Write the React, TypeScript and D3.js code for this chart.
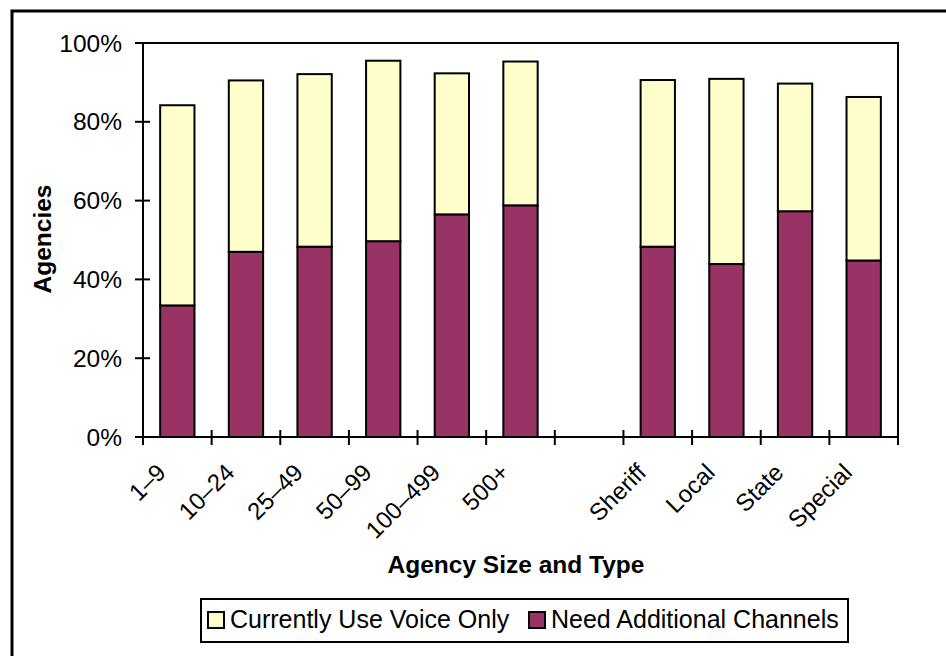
import * as d3 from 'd3';
import { useEffect, useRef } from 'react';

// categories (empty slot separates size groups from agency types)
const categories = ['1–9', '10–24', '25–49', '50–99', '100–499', '500+', '', 'Sheriff', 'Local', 'State', 'Special'];
const needAdditional = [33.4, 47.0, 48.3, 49.7, 56.5, 58.8, 0, 48.3, 43.9, 57.3, 44.8];
const voiceOnly = [50.8, 43.5, 43.8, 45.8, 35.8, 36.5, 0, 42.3, 47.0, 32.4, 41.5];
const yTicks = [0, 20, 40, 60, 80, 100];
const seriesNames = ['Currently Use Voice Only', 'Need Additional Channels'];
const seriesColors = ['#FFFFCC', '#993366'];

const FONT = '"Liberation Sans", Arial, sans-serif';

export default function App() {
  const ref = useRef<SVGSVGElement | null>(null);

  useEffect(() => {
    if (!ref.current) return;
    const svg = d3.select(ref.current);
    svg.selectAll('*').remove();

    const width = 946;
    const height = 656;
    const left = 143, right = 898, top = 43, bottom = 437;

    // outer frame
    svg.append('rect')
      .attr('x', 12).attr('y', 11)
      .attr('width', width).attr('height', height)
      .attr('fill', 'white').attr('stroke', '#000').attr('stroke-width', 3);

    const rows = categories.map((c, i) => ({
      cat: String(i),
      label: c,
      need: needAdditional[i],
      voice: voiceOnly[i],
    }));

    const x = d3.scaleBand<string>()
      .domain(rows.map((r) => r.cat))
      .range([left, right])
      .paddingInner(0.5)
      .paddingOuter(0.25);

    const y = d3.scaleLinear().domain([0, 100]).range([bottom, top]);

    // plot frame
    svg.append('rect')
      .attr('x', left).attr('y', top)
      .attr('width', right - left).attr('height', bottom - top)
      .attr('fill', 'none').attr('stroke', '#000').attr('stroke-width', 2);

    const stack = d3.stack<any>().keys(['need', 'voice']);
    const stacked = stack(rows.filter((r) => r.label !== ''));
    const colorFor: Record<string, string> = { need: seriesColors[1], voice: seriesColors[0] };

    svg.append('g')
      .selectAll('g')
      .data(stacked)
      .join('g')
      .attr('fill', (s) => colorFor[s.key])
      .selectAll('rect')
      .data((s) => s)
      .join('rect')
      .attr('x', (d: any) => x(d.data.cat)!)
      .attr('y', (d) => y(d[1]))
      .attr('width', x.bandwidth())
      .attr('height', (d) => y(d[0]) - y(d[1]))
      .attr('stroke', '#000')
      .attr('stroke-width', 2);

    // axes lines
    svg.append('line')
      .attr('x1', left).attr('x2', right).attr('y1', bottom).attr('y2', bottom)
      .attr('stroke', '#000').attr('stroke-width', 2);
    svg.append('line')
      .attr('x1', left).attr('x2', left).attr('y1', top).attr('y2', bottom)
      .attr('stroke', '#000').attr('stroke-width', 2);

    // y ticks (cross)
    const yg = svg.append('g');
    yTicks.forEach((t) => {
      yg.append('line')
        .attr('x1', left - 8).attr('x2', left + 7)
        .attr('y1', y(t)).attr('y2', y(t))
        .attr('stroke', '#000').attr('stroke-width', 2);
      yg.append('text')
        .attr('x', 122).attr('y', y(t))
        .attr('dy', '0.35em')
        .attr('text-anchor', 'end')
        .attr('font-family', FONT).attr('font-size', 24.5)
        .text(`${t}%`);
    });

    // x ticks at category boundaries
    const step = x.step();
    d3.range(categories.length + 1).forEach((i) => {
      const xx = left + i * step;
      svg.append('line')
        .attr('x1', xx).attr('x2', xx)
        .attr('y1', bottom - 7).attr('y2', bottom + 8)
        .attr('stroke', '#000').attr('stroke-width', 2);
    });

    // x labels
    rows.forEach((r) => {
      if (!r.label) return;
      const cx = x(r.cat)! + x.bandwidth() / 2;
      svg.append('text')
        .attr('transform', `translate(${cx - 16}, ${bottom + 31}) rotate(-45)`)
        .attr('text-anchor', 'end')
        .attr('dy', '0.35em')
        .attr('font-family', FONT).attr('font-size', 24)
        .text(r.label);
    });

    // axis titles
    svg.append('text')
      .attr('x', 516).attr('y', 573)
      .attr('text-anchor', 'middle')
      .attr('font-family', FONT).attr('font-size', 24.5).attr('font-weight', 'bold')
      .text('Agency Size and Type');

    svg.append('text')
      .attr('transform', 'translate(51, 239) rotate(-90)')
      .attr('text-anchor', 'middle')
      .attr('font-family', FONT).attr('font-size', 24.5).attr('font-weight', 'bold')
      .text('Agencies');

    // legend
    const lg = svg.append('g');
    lg.append('rect')
      .attr('x', 201).attr('y', 599)
      .attr('width', 647).attr('height', 43)
      .attr('fill', 'white').attr('stroke', '#000').attr('stroke-width', 2);
    const legendX = [208, 529];
    seriesNames.forEach((name, i) => {
      lg.append('rect')
        .attr('x', legendX[i]).attr('y', 612)
        .attr('width', 16).attr('height', 16)
        .attr('fill', seriesColors[i]).attr('stroke', '#000').attr('stroke-width', 2);
      lg.append('text')
        .attr('x', legendX[i] + 22).attr('y', 628)
        .attr('font-family', FONT).attr('font-size', 25)
        .text(name);
    });
  }, []);

  return (
    <svg
      ref={ref}
      width={946}
      height={656}
      style={{ position: 'absolute', left: 0, top: 0, background: 'white' }}
    />
  );
}
